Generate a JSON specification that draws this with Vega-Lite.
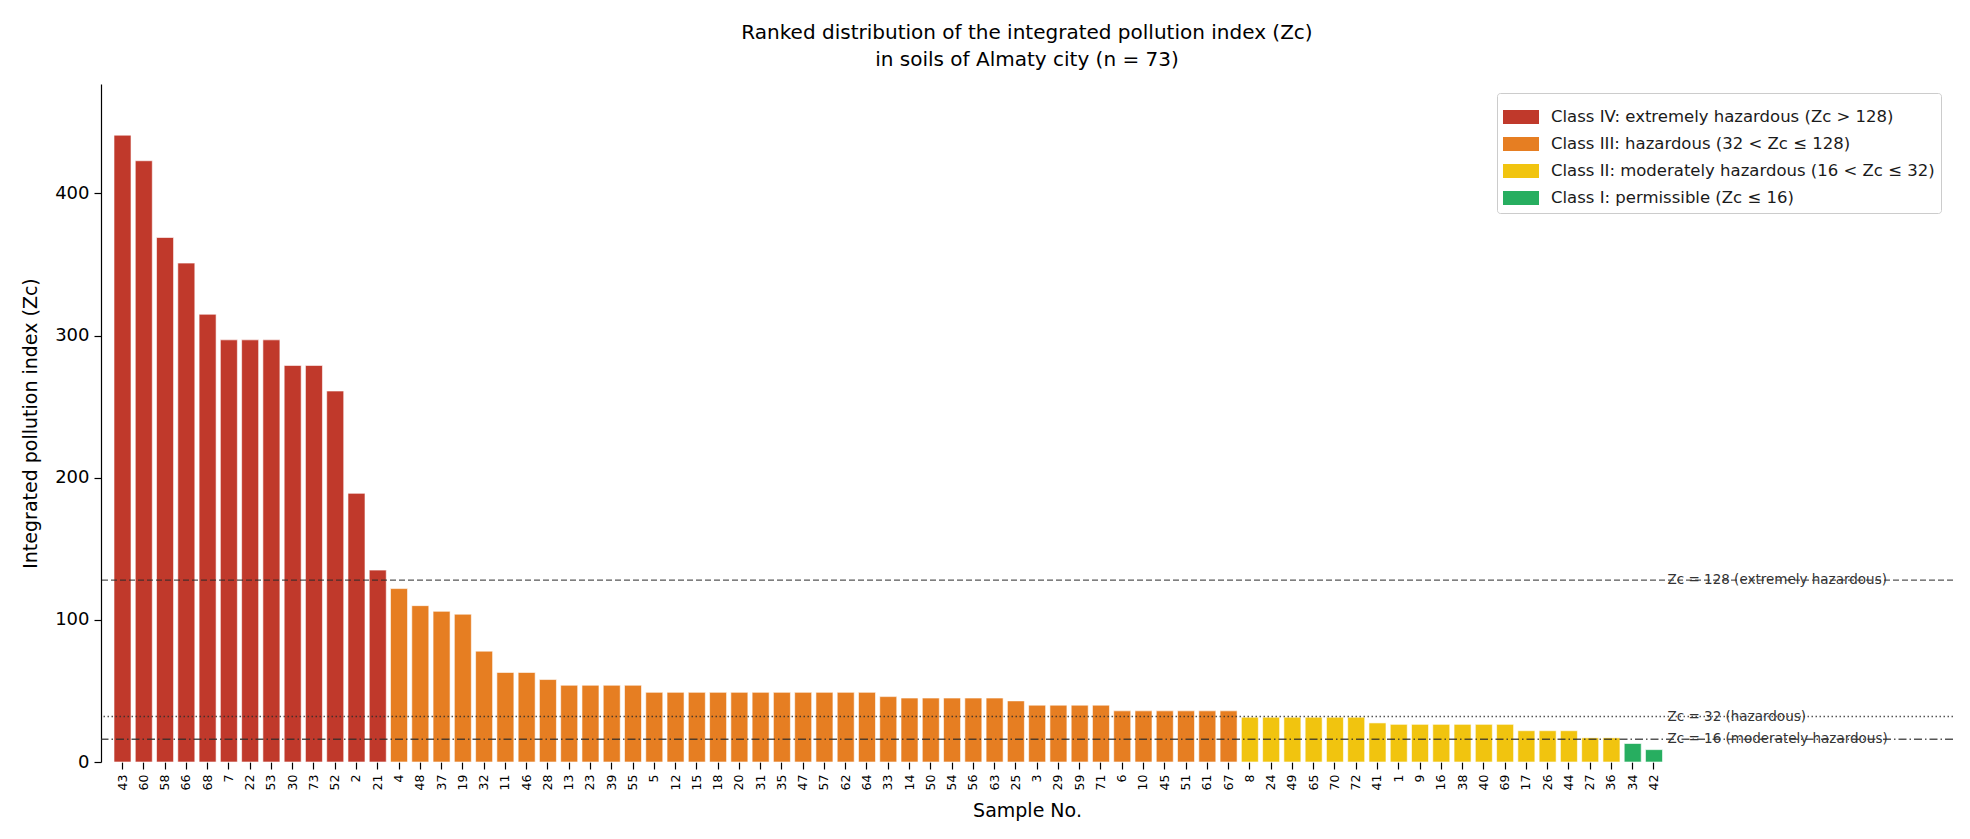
{
  "$schema": "https://vega.github.io/schema/vega-lite/v6.json",
  "autosize": {"type": "none"},
  "padding": {"left": 101, "top": 84, "right": 17, "bottom": 77},
  "width": 1852,
  "height": 678,
  "background": "white",
  "config": {
    "font": "DejaVu Sans",
    "view": {"stroke": null},
    "axis": {
      "domainColor": "#000000",
      "domainWidth": 1.2,
      "tickColor": "#000000",
      "tickWidth": 1.2,
      "tickSize": 7,
      "labelColor": "#000000",
      "titleColor": "#000000",
      "titleFontWeight": "normal",
      "grid": false
    }
  },
  "title": {
    "text": ["Ranked distribution of the integrated pollution index (Zc)", "in soils of Almaty city (n = 73)"],
    "fontSize": 20,
    "fontWeight": "normal",
    "lineHeight": 27,
    "color": "#000000",
    "anchor": "middle",
    "frame": "group",
    "offset": 14
  },
  "datasets": {
    "samples": [
      {"sample": "43", "zc": 441, "cls": "Class IV: extremely hazardous (Zc > 128)"},
      {"sample": "60", "zc": 423, "cls": "Class IV: extremely hazardous (Zc > 128)"},
      {"sample": "58", "zc": 369, "cls": "Class IV: extremely hazardous (Zc > 128)"},
      {"sample": "66", "zc": 351, "cls": "Class IV: extremely hazardous (Zc > 128)"},
      {"sample": "68", "zc": 315, "cls": "Class IV: extremely hazardous (Zc > 128)"},
      {"sample": "7", "zc": 297, "cls": "Class IV: extremely hazardous (Zc > 128)"},
      {"sample": "22", "zc": 297, "cls": "Class IV: extremely hazardous (Zc > 128)"},
      {"sample": "53", "zc": 297, "cls": "Class IV: extremely hazardous (Zc > 128)"},
      {"sample": "30", "zc": 279, "cls": "Class IV: extremely hazardous (Zc > 128)"},
      {"sample": "73", "zc": 279, "cls": "Class IV: extremely hazardous (Zc > 128)"},
      {"sample": "52", "zc": 261, "cls": "Class IV: extremely hazardous (Zc > 128)"},
      {"sample": "2", "zc": 189, "cls": "Class IV: extremely hazardous (Zc > 128)"},
      {"sample": "21", "zc": 135, "cls": "Class IV: extremely hazardous (Zc > 128)"},
      {"sample": "4", "zc": 122, "cls": "Class III: hazardous (32 < Zc ≤ 128)"},
      {"sample": "48", "zc": 110, "cls": "Class III: hazardous (32 < Zc ≤ 128)"},
      {"sample": "37", "zc": 106, "cls": "Class III: hazardous (32 < Zc ≤ 128)"},
      {"sample": "19", "zc": 104, "cls": "Class III: hazardous (32 < Zc ≤ 128)"},
      {"sample": "32", "zc": 78, "cls": "Class III: hazardous (32 < Zc ≤ 128)"},
      {"sample": "11", "zc": 63, "cls": "Class III: hazardous (32 < Zc ≤ 128)"},
      {"sample": "46", "zc": 63, "cls": "Class III: hazardous (32 < Zc ≤ 128)"},
      {"sample": "28", "zc": 58, "cls": "Class III: hazardous (32 < Zc ≤ 128)"},
      {"sample": "13", "zc": 54, "cls": "Class III: hazardous (32 < Zc ≤ 128)"},
      {"sample": "23", "zc": 54, "cls": "Class III: hazardous (32 < Zc ≤ 128)"},
      {"sample": "39", "zc": 54, "cls": "Class III: hazardous (32 < Zc ≤ 128)"},
      {"sample": "55", "zc": 54, "cls": "Class III: hazardous (32 < Zc ≤ 128)"},
      {"sample": "5", "zc": 49, "cls": "Class III: hazardous (32 < Zc ≤ 128)"},
      {"sample": "12", "zc": 49, "cls": "Class III: hazardous (32 < Zc ≤ 128)"},
      {"sample": "15", "zc": 49, "cls": "Class III: hazardous (32 < Zc ≤ 128)"},
      {"sample": "18", "zc": 49, "cls": "Class III: hazardous (32 < Zc ≤ 128)"},
      {"sample": "20", "zc": 49, "cls": "Class III: hazardous (32 < Zc ≤ 128)"},
      {"sample": "31", "zc": 49, "cls": "Class III: hazardous (32 < Zc ≤ 128)"},
      {"sample": "35", "zc": 49, "cls": "Class III: hazardous (32 < Zc ≤ 128)"},
      {"sample": "47", "zc": 49, "cls": "Class III: hazardous (32 < Zc ≤ 128)"},
      {"sample": "57", "zc": 49, "cls": "Class III: hazardous (32 < Zc ≤ 128)"},
      {"sample": "62", "zc": 49, "cls": "Class III: hazardous (32 < Zc ≤ 128)"},
      {"sample": "64", "zc": 49, "cls": "Class III: hazardous (32 < Zc ≤ 128)"},
      {"sample": "33", "zc": 46, "cls": "Class III: hazardous (32 < Zc ≤ 128)"},
      {"sample": "14", "zc": 45, "cls": "Class III: hazardous (32 < Zc ≤ 128)"},
      {"sample": "50", "zc": 45, "cls": "Class III: hazardous (32 < Zc ≤ 128)"},
      {"sample": "54", "zc": 45, "cls": "Class III: hazardous (32 < Zc ≤ 128)"},
      {"sample": "56", "zc": 45, "cls": "Class III: hazardous (32 < Zc ≤ 128)"},
      {"sample": "63", "zc": 45, "cls": "Class III: hazardous (32 < Zc ≤ 128)"},
      {"sample": "25", "zc": 43, "cls": "Class III: hazardous (32 < Zc ≤ 128)"},
      {"sample": "3", "zc": 40, "cls": "Class III: hazardous (32 < Zc ≤ 128)"},
      {"sample": "29", "zc": 40, "cls": "Class III: hazardous (32 < Zc ≤ 128)"},
      {"sample": "59", "zc": 40, "cls": "Class III: hazardous (32 < Zc ≤ 128)"},
      {"sample": "71", "zc": 40, "cls": "Class III: hazardous (32 < Zc ≤ 128)"},
      {"sample": "6", "zc": 36, "cls": "Class III: hazardous (32 < Zc ≤ 128)"},
      {"sample": "10", "zc": 36, "cls": "Class III: hazardous (32 < Zc ≤ 128)"},
      {"sample": "45", "zc": 36, "cls": "Class III: hazardous (32 < Zc ≤ 128)"},
      {"sample": "51", "zc": 36, "cls": "Class III: hazardous (32 < Zc ≤ 128)"},
      {"sample": "61", "zc": 36, "cls": "Class III: hazardous (32 < Zc ≤ 128)"},
      {"sample": "67", "zc": 36, "cls": "Class III: hazardous (32 < Zc ≤ 128)"},
      {"sample": "8", "zc": 31.5, "cls": "Class II: moderately hazardous (16 < Zc ≤ 32)"},
      {"sample": "24", "zc": 31.5, "cls": "Class II: moderately hazardous (16 < Zc ≤ 32)"},
      {"sample": "49", "zc": 31.5, "cls": "Class II: moderately hazardous (16 < Zc ≤ 32)"},
      {"sample": "65", "zc": 31.5, "cls": "Class II: moderately hazardous (16 < Zc ≤ 32)"},
      {"sample": "70", "zc": 31.5, "cls": "Class II: moderately hazardous (16 < Zc ≤ 32)"},
      {"sample": "72", "zc": 31.5, "cls": "Class II: moderately hazardous (16 < Zc ≤ 32)"},
      {"sample": "41", "zc": 27.5, "cls": "Class II: moderately hazardous (16 < Zc ≤ 32)"},
      {"sample": "1", "zc": 26.5, "cls": "Class II: moderately hazardous (16 < Zc ≤ 32)"},
      {"sample": "9", "zc": 26.5, "cls": "Class II: moderately hazardous (16 < Zc ≤ 32)"},
      {"sample": "16", "zc": 26.5, "cls": "Class II: moderately hazardous (16 < Zc ≤ 32)"},
      {"sample": "38", "zc": 26.5, "cls": "Class II: moderately hazardous (16 < Zc ≤ 32)"},
      {"sample": "40", "zc": 26.5, "cls": "Class II: moderately hazardous (16 < Zc ≤ 32)"},
      {"sample": "69", "zc": 26.5, "cls": "Class II: moderately hazardous (16 < Zc ≤ 32)"},
      {"sample": "17", "zc": 22, "cls": "Class II: moderately hazardous (16 < Zc ≤ 32)"},
      {"sample": "26", "zc": 22, "cls": "Class II: moderately hazardous (16 < Zc ≤ 32)"},
      {"sample": "44", "zc": 22, "cls": "Class II: moderately hazardous (16 < Zc ≤ 32)"},
      {"sample": "27", "zc": 17, "cls": "Class II: moderately hazardous (16 < Zc ≤ 32)"},
      {"sample": "36", "zc": 17, "cls": "Class II: moderately hazardous (16 < Zc ≤ 32)"},
      {"sample": "34", "zc": 13, "cls": "Class I: permissible (Zc ≤ 16)"},
      {"sample": "42", "zc": 8.7, "cls": "Class I: permissible (Zc ≤ 16)"}
    ],
    "thresholds": [
      {"zc": 128, "style": "dashed", "label": "Zc = 128 (extremely hazardous)"},
      {"zc": 32, "style": "dotted", "label": "Zc = 32 (hazardous)"},
      {"zc": 16, "style": "dashdot", "label": "Zc = 16 (moderately hazardous)"}
    ]
  },
  "layer": [
    {
      "data": {"name": "samples"},
      "mark": {"type": "bar", "stroke": "white", "strokeWidth": 0.6, "opacity": 1},
      "encoding": {
        "x": {
          "field": "sample",
          "type": "nominal",
          "sort": null,
          "scale": {"range": [13, 1561.5], "paddingInner": 0.2, "paddingOuter": 0},
          "axis": {
            "title": "Sample No.",
            "titleFontSize": 19,
            "titlePadding": 12,
            "titleX": 926,
            "domain": false,
            "labelAngle": 270,
            "labelFontSize": 12.5,
            "labelPadding": 5
          }
        },
        "y": {
          "field": "zc",
          "type": "quantitative",
          "scale": {"domain": [0, 477], "nice": false},
          "axis": {
            "title": "Integrated pollution index (Zc)",
            "titleFontSize": 19,
            "titlePadding": 14,
            "labelFontSize": 18,
            "labelPadding": 5,
            "values": [0, 100, 200, 300, 400]
          }
        },
        "color": {
          "field": "cls",
          "type": "nominal",
          "scale": {
            "domain": [
              "Class IV: extremely hazardous (Zc > 128)",
              "Class III: hazardous (32 < Zc ≤ 128)",
              "Class II: moderately hazardous (16 < Zc ≤ 32)",
              "Class I: permissible (Zc ≤ 16)"
            ],
            "range": ["#C0392B", "#E67E22", "#F1C40F", "#27AE60"]
          },
          "legend": {
            "title": null,
            "orient": "none",
            "legendX": 1396,
            "legendY": 9,
            "padding": 6,
            "rowPadding": -3.5,
            "labelFontSize": 16.5,
            "labelColor": "#1a1a1a",
            "labelOffset": 12,
            "labelLimit": 500,
            "symbolType": "M-1,-0.39L1,-0.39L1,0.39L-1,0.39Z",
            "symbolSize": 1296,
            "symbolStrokeWidth": 0,
            "symbolOpacity": 1,
            "strokeColor": "#cccccc",
            "fillColor": "white",
            "cornerRadius": 3
          }
        }
      }
    },
    {
      "data": {"name": "thresholds"},
      "mark": {"type": "rule", "color": "#2a2a2a", "opacity": 0.8, "strokeWidth": 1.3},
      "encoding": {
        "y": {"field": "zc", "type": "quantitative"},
        "strokeDash": {
          "field": "style",
          "type": "nominal",
          "scale": {"domain": ["dashed", "dotted", "dashdot"], "range": [[6, 3], [1.5, 2.5], [8, 3, 1.5, 3]]},
          "legend": null
        }
      }
    },
    {
      "data": {"name": "thresholds"},
      "mark": {"type": "text", "align": "left", "baseline": "middle", "dx": 5, "fontSize": 13.5, "color": "#333333"},
      "encoding": {
        "x": {"datum": "42", "bandPosition": 1},
        "y": {"field": "zc", "type": "quantitative"},
        "text": {"field": "label"}
      }
    },
    {
      "mark": {"type": "rule", "color": "#000000", "strokeWidth": 1.2},
      "encoding": {
        "y": {"datum": 0}
      }
    }
  ]
}
